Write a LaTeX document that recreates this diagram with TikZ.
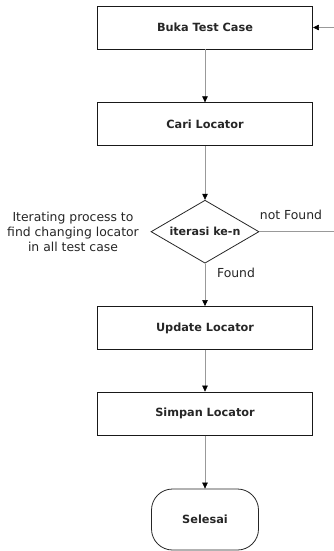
\documentclass[tikz,border=0pt]{standalone}
\usepackage{fontspec}
\setmainfont{DejaVu Sans}
\usetikzlibrary{shapes.geometric,arrows.meta}
\begin{document}
\begin{tikzpicture}[x=1pt,y=-1pt,
  font=\fontsize{12.4}{15}\selectfont,
  procbox/.style={draw=black!90,line width=0.9pt,minimum width=215pt,minimum height=43pt,inner sep=0pt,font=\fontsize{11.3}{15}\selectfont\bfseries,text=black!85},
  decision/.style={draw=black!85,line width=0.8pt,shape=diamond,shape aspect=1.7,minimum width=108pt,minimum height=63pt,inner sep=0pt,font=\fontsize{11.1}{15}\selectfont\bfseries,text=black!85},
  terminal/.style={draw=black!85,line width=0.8pt,rounded corners=21pt,minimum width=107pt,minimum height=61pt,inner sep=0pt,font=\fontsize{11.3}{15}\selectfont\bfseries,text=black!85},
  flow/.style={draw=black!40,line width=0.6pt,-{Triangle[width=5.5pt,length=6pt,color=black]}},
  plain/.style={draw=black!40,line width=0.6pt},
  note/.style={text=black!85,align=center,inner sep=0pt}]
\useasboundingbox (0,0) rectangle (334,551);
\node[procbox] (buka) at (205,27.5) {Buka Test Case};
\node[procbox] (cari) at (205,124.3) {Cari Locator};
\node[decision] (iter) at (205,231.7) {iterasi ke-n};
\node[procbox] (upd) at (205,328) {Update Locator};
\node[procbox] (simpan) at (205,413.6) {Simpan Locator};
\node[terminal] (selesai) at (205,519.5) {Selesai};
\coordinate (loopout) at (334,231.7);
\coordinate (loopin) at (334,27.5);
\draw[flow] (buka) -- (cari);
\draw[flow] (cari) -- (iter);
\draw[flow] (iter) -- (upd);
\draw[flow] (upd) -- (simpan);
\draw[flow] (simpan) -- (selesai);
\draw[plain] (iter.east) -- (loopout);
\draw[flow] (loopin) -- (buka.east);
\node[note] (nf) at (291,215) {not Found};
\node[note] (fd) at (236,273.3) {Found};
\node[note] (desc) at (73,231.7) {Iterating process to\\find changing locator\\in all test case};
\end{tikzpicture}
\end{document}
